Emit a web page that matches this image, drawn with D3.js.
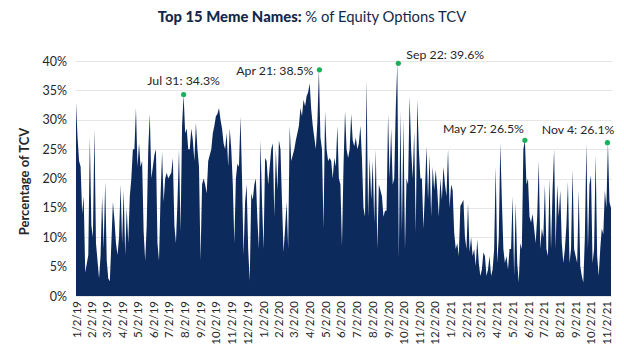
<!DOCTYPE html>
<html>
<head>
<meta charset="utf-8">
<script src="https://cdn.jsdelivr.net/npm/d3@7"></script>
<style>
  html, body { margin: 0; padding: 0; background: #ffffff; }
  svg { display: block; }
</style>
</head>
<body>
<svg id="chart" width="624" height="350"></svg>
<script>
// ---------------- DATA ----------------
// Series sampled every 3 calendar days starting 2019-01-02 (values in % of TCV)
const seriesStart = "2019-01-02";
const sampleStepDays = 3;
const tcvShare = [
  33, 27, 23, 22, 14, 17, 4, 5.5, 7, 27, 12, 10, 28.5, 9, 6, 3, 7, 17, 8, 19.5,
  6, 3, 2.5, 9, 16, 13, 9, 7, 10, 19, 9, 18, 7, 15, 9, 17, 20, 25, 25, 32,
  22, 26, 22, 23, 11, 6, 12, 25, 31, 20, 22, 24, 25, 9, 6, 17, 24.5, 16, 20, 21,
  20, 20.5, 21, 23.5, 12, 9, 16, 25, 11, 29, 34.3, 27.7, 28.5, 25, 25, 28.5, 26.5, 23, 29.5, 25,
  22, 6, 19, 20, 19, 17.5, 23, 24, 25, 27.7, 29, 30.6, 31, 32, 30, 28.5, 26, 25, 27.7, 22,
  28.5, 25, 19, 9, 20, 22.5, 22, 30.5, 20, 7, 16, 19, 8, 2.5, 17.5, 16.4, 19, 20, 13, 8,
  26.5, 16, 8, 23.5, 23, 19, 22, 25, 26, 13.5, 25, 18, 26.5, 25, 16, 7.5, 11.5, 16, 8, 29,
  23, 24, 25, 26.5, 27.7, 29, 32, 30.6, 33.4, 32.3, 34, 34.7, 36.2, 31.8, 29, 27, 25, 29.5, 38.5, 27,
  25, 11.5, 31.5, 25, 23, 23.5, 23, 20, 23.5, 22, 29, 20, 19, 8.5, 22, 31.5, 25, 23.5, 25, 31,
  26.5, 25.5, 27, 25, 26, 29, 23.5, 15, 13.5, 36.8, 13.5, 23.5, 16.4, 23, 12.5, 25, 8, 19, 18, 17,
  13.5, 14.5, 14.5, 31, 20, 28.5, 19, 20, 32, 39.6, 6.5, 31.5, 10.8, 30, 8, 20, 19, 34, 25, 20,
  28, 10.8, 33.5, 25, 20, 20, 11.5, 18, 25.5, 16.4, 24, 13.5, 22, 18, 21.5, 18, 13.5, 20, 16.4, 22,
  19, 17, 25, 15, 19, 18, 10.8, 8, 9, 6.8, 15.3, 15.8, 16.4, 10, 8, 15.8, 7.5, 10, 6.8, 8,
  5.1, 9.6, 5.6, 3.4, 4.5, 7.4, 6.8, 3.4, 4.5, 6.8, 3.4, 4.5, 8, 22, 5.6, 10, 26, 16.4, 8, 5.6,
  6.8, 4.5, 8, 8, 17, 3.4, 15.8, 5.6, 2.3, 9, 8, 25, 26.5, 19, 20, 13.5, 12.5, 14, 11.5, 9,
  13.5, 23, 8, 11.5, 10, 19, 8, 6.8, 20, 8, 18, 25, 8, 19, 13.5, 18, 9, 5.6, 8, 12,
  19.5, 5.6, 8, 21.5, 8, 6.8, 5.6, 18, 5.1, 3.4, 2.3, 10, 26, 8, 19, 20.5, 5.6, 8, 24, 6.8,
  3.4, 8, 11.5, 10.5, 18, 15, 26.1, 16, 15
];

// Annotated highs
const highlightDates  = ["2019-07-31", "2020-04-21", "2020-09-22", "2021-05-27", "2021-11-04"];
const highlightValues = [34.3, 38.5, 39.6, 26.5, 26.1];
const highlightLabels = ["Jul 31: 34.3%", "Apr 21: 38.5%", "Sep 22: 39.6%", "May 27: 26.5%", "Nov 4: 26.1%"];

// Axis ticks
const yTickValues = [0, 5, 10, 15, 20, 25, 30, 35, 40];
const xTickFirst = "2019-01-02";
const xTickLast = "2021-11-02";

const titleBold = "Top 15 Meme Names:";
const titleRest = " % of Equity Options TCV";
const yAxisTitle = "Percentage of TCV";

// ---------------- LAYOUT ----------------
const W = 624, H = 350;
const plot = { left: 76, right: 611, top: 61, bottom: 296 };
const navy = "#0d2a5d";
const textColor = "#262626";
const fontFamily = "Lato, 'Open Sans', 'Noto Sans', sans-serif";

// label placement relative to the dot (layout only)
const labelLayout = [
  { dx: 0,  dy: -9, anchor: "middle" },
  { dx: -6, dy: 5,  anchor: "end" },
  { dx: 8,  dy: -4, anchor: "start" },
  { dx: -1, dy: -7, anchor: "end" },
  { dx: 7,  dy: -9, anchor: "end" }
];

const parse = d3.utcParse("%Y-%m-%d");
const start = parse(seriesStart);
const data = tcvShare.map((v, i) => ({ date: d3.utcDay.offset(start, i * sampleStepDays), value: v }));

const x = d3.scaleUtc()
  .domain([data[0].date, data[data.length - 1].date])
  .range([plot.left, plot.right]);
const y = d3.scaleLinear()
  .domain([0, 40])
  .range([plot.bottom, plot.top]);

const svg = d3.select("#chart");
svg.append("rect").attr("width", W).attr("height", H).attr("fill", "#ffffff");

// gridlines
svg.append("g")
  .selectAll("line")
  .data(yTickValues)
  .join("line")
  .attr("x1", plot.left).attr("x2", plot.right + 1)
  .attr("y1", d => Math.round(y(d)) + 0.5).attr("y2", d => Math.round(y(d)) + 0.5)
  .attr("stroke", "#e6e6e6").attr("stroke-width", 1);

// area
const area = d3.area()
  .x(d => x(d.date))
  .y0(y(0))
  .y1(d => y(d.value))
  .curve(d3.curveLinear);
svg.append("path")
  .datum(data)
  .attr("d", area)
  .attr("fill", navy);

// y axis
const yAxis = d3.axisLeft(y)
  .tickValues(yTickValues)
  .tickSize(0)
  .tickPadding(9)
  .tickFormat(d => d + "%");
const gy = svg.append("g").attr("transform", `translate(${plot.left},0)`).call(yAxis);
gy.select(".domain").remove();
gy.selectAll("text")
  .attr("font-family", fontFamily)
  .attr("font-size", 12.5)
  .attr("fill", textColor);

// x axis: the 2nd of each month
const tickDates = d3.utcMonth.range(
    d3.utcMonth.floor(parse(xTickFirst)),
    d3.utcMonth.offset(d3.utcMonth.floor(parse(xTickLast)), 1))
  .map(d => d3.utcDay.offset(d, 1));
const xAxis = d3.axisBottom(x)
  .tickValues(tickDates)
  .tickSize(0)
  .tickFormat(d3.utcFormat("%-m/%-d/%y"));
const gx = svg.append("g").attr("transform", `translate(0,${plot.bottom})`).call(xAxis);
gx.select(".domain").remove();
gx.selectAll("text")
  .attr("font-family", fontFamily)
  .attr("font-size", 11.5)
  .attr("fill", textColor)
  .attr("text-anchor", "end")
  .attr("transform", "rotate(-90)")
  .attr("x", -5)
  .attr("y", 0)
  .attr("dy", "0.35em");

// y axis title
svg.append("text")
  .attr("transform", `translate(29,${(plot.top + plot.bottom) / 2 + 3}) rotate(-90)`)
  .attr("text-anchor", "middle")
  .attr("font-family", fontFamily)
  .attr("font-weight", "bold")
  .attr("font-size", 13)
  .attr("fill", textColor)
  .text(yAxisTitle);

// title
const title = svg.append("text")
  .attr("x", 312).attr("y", 22)
  .attr("text-anchor", "middle")
  .attr("font-family", fontFamily)
  .attr("font-size", 14.8)
  .attr("fill", "#14284b");
title.append("tspan").attr("font-weight", "900").text(titleBold);
title.append("tspan").text(titleRest);

// highlights
const highlights = highlightDates.map((d, i) => ({
  date: parse(d), value: highlightValues[i], label: highlightLabels[i], layout: labelLayout[i]
}));
const hg = svg.append("g");
hg.selectAll("circle")
  .data(highlights)
  .join("circle")
  .attr("cx", d => x(d.date))
  .attr("cy", d => y(d.value))
  .attr("r", 2.6)
  .attr("fill", "#1db05a");
hg.selectAll("text")
  .data(highlights)
  .join("text")
  .attr("x", d => x(d.date) + d.layout.dx)
  .attr("y", d => y(d.value) + d.layout.dy)
  .attr("text-anchor", d => d.layout.anchor)
  .attr("font-family", fontFamily)
  .attr("font-size", 12.3)
  .attr("fill", textColor)
  .text(d => d.label);
</script>
</body>
</html>
